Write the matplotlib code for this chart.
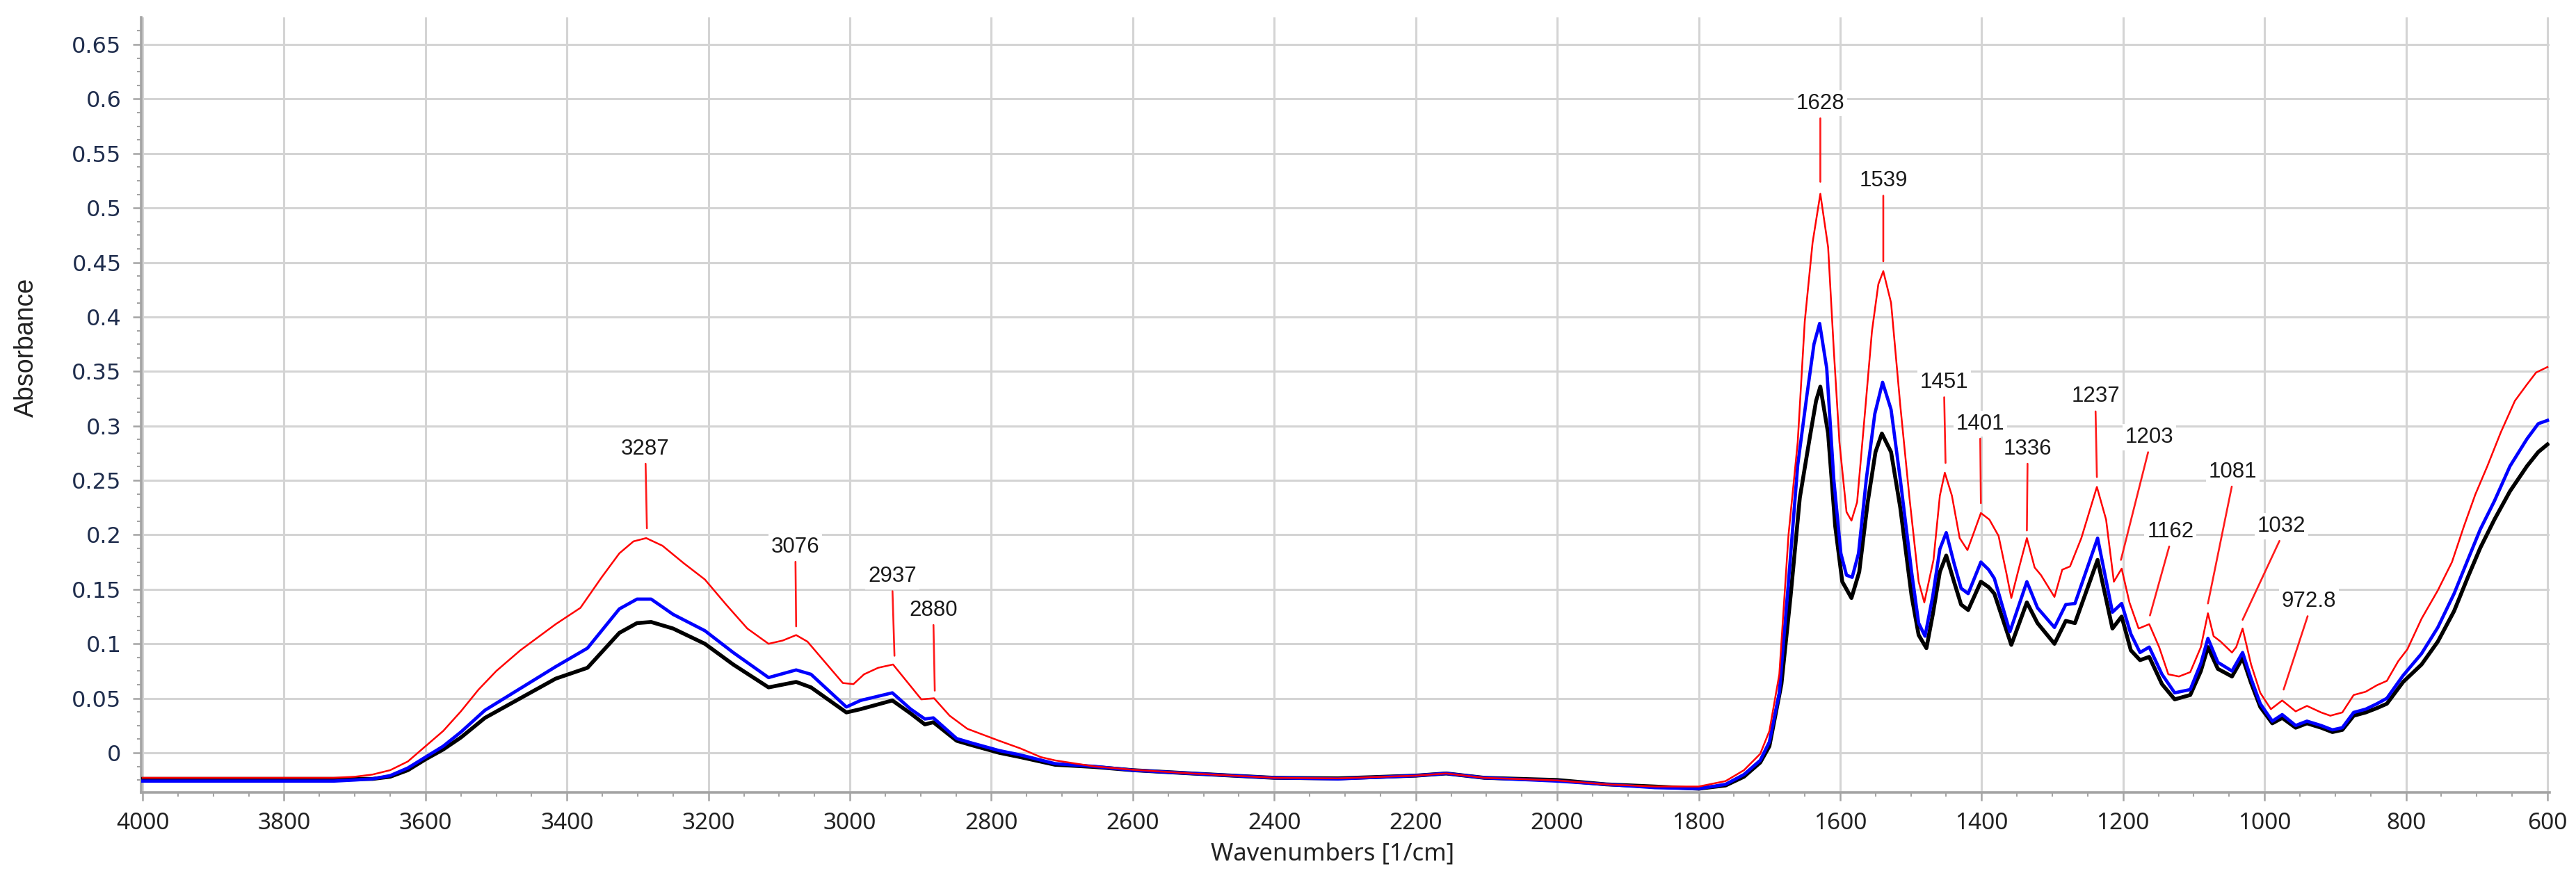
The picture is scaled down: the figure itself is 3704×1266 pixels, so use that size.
import matplotlib
matplotlib.use("Agg")
import matplotlib.pyplot as plt
from matplotlib.ticker import MultipleLocator, AutoMinorLocator, FuncFormatter
from matplotlib import font_manager

# ---- spectra (wavenumber [1/cm], absorbance) ----
wn_red = [4000, 3900, 3800, 3730, 3700, 3675, 3650, 3625, 3600, 3575, 3550, 3525,
          3500, 3466, 3416, 3381, 3351, 3326, 3306, 3288, 3265, 3235, 3205, 3175,
          3145, 3115, 3095, 3076, 3060, 3035, 3010, 2995, 2980, 2960, 2939, 2919,
          2899, 2881, 2859, 2834, 2789, 2759, 2730, 2710, 2655, 2600, 2517, 2400,
          2310, 2200, 2157, 2103, 2000, 1931, 1862, 1800, 1762, 1736, 1713, 1700,
          1686, 1673, 1660, 1650, 1639, 1628, 1617, 1609, 1601, 1591, 1584, 1576,
          1564, 1555, 1546, 1539, 1528, 1515, 1502, 1489, 1481, 1468, 1459, 1452,
          1442, 1431, 1420, 1411, 1401, 1389, 1376, 1365, 1358, 1347, 1336, 1325,
          1316, 1297, 1286, 1275, 1259, 1237, 1224, 1213, 1202, 1191, 1178, 1163,
          1149, 1136, 1121, 1105, 1090, 1080, 1072, 1062, 1046, 1040, 1031, 1019,
          1006, 991, 975, 956, 940, 920, 907, 890, 874, 857, 841, 827, 811, 798,
          778, 755, 735, 718, 702, 685, 666, 646, 629, 616, 600]
abs_red = [-0.023, -0.023, -0.023, -0.023, -0.022, -0.020, -0.016, -0.008, 0.006, 0.020, 0.038, 0.058,
           0.075, 0.094, 0.118, 0.133, 0.161, 0.183, 0.194, 0.197, 0.190, 0.174, 0.159, 0.136,
           0.114, 0.100, 0.103, 0.108, 0.102, 0.083, 0.064, 0.063, 0.072, 0.078, 0.081, 0.065,
           0.049, 0.050, 0.034, 0.022, 0.011, 0.004, -0.004, -0.007, -0.0125, -0.0156, -0.019, -0.023,
           -0.0235, -0.021, -0.019, -0.023, -0.0254, -0.029, -0.031, -0.031, -0.026, -0.016, -0.001, 0.020,
           0.072, 0.200, 0.285, 0.396, 0.468, 0.513, 0.464, 0.370, 0.285, 0.221, 0.213, 0.230,
           0.319, 0.387, 0.430, 0.442, 0.413, 0.319, 0.234, 0.157, 0.138, 0.177, 0.236, 0.257,
           0.236, 0.197, 0.186, 0.202, 0.220, 0.214, 0.199, 0.165, 0.142, 0.170, 0.197, 0.170,
           0.163, 0.143, 0.168, 0.171, 0.197, 0.244, 0.214, 0.157, 0.169, 0.138, 0.114, 0.118,
           0.097, 0.072, 0.070, 0.074, 0.097, 0.128, 0.107, 0.102, 0.092, 0.097, 0.114, 0.081,
           0.055, 0.040, 0.048, 0.038, 0.043, 0.037, 0.034, 0.037, 0.053, 0.056, 0.062, 0.066, 0.084, 0.095,
           0.123, 0.149, 0.175, 0.208, 0.237, 0.263, 0.294, 0.323, 0.338, 0.349, 0.354]

wn_blue = [4000, 3900, 3800, 3730, 3700, 3675, 3650, 3625, 3600, 3575, 3550, 3516,
           3466, 3416, 3371, 3326, 3301, 3281, 3250, 3205, 3165, 3115, 3076, 3055,
           3005, 2985, 2940, 2914, 2894, 2882, 2849, 2828, 2789, 2759, 2710, 2655,
           2600, 2517, 2400, 2310, 2200, 2157, 2103, 2000, 1931, 1862, 1800, 1762,
           1736, 1713, 1700, 1686, 1673, 1660, 1647, 1637, 1629, 1619, 1609, 1599,
           1591, 1583, 1574, 1563, 1551, 1540, 1528, 1515, 1499, 1489, 1480, 1469,
           1459, 1450, 1439, 1429, 1419, 1401, 1390, 1382, 1360, 1336, 1321, 1297,
           1281, 1268, 1236, 1215, 1202, 1189, 1176, 1163, 1145, 1127, 1105, 1090,
           1080, 1066, 1046, 1031, 1019, 1006, 989, 975, 956, 940, 920, 904, 890,
           874, 857, 841, 827, 804, 778, 755, 732, 712, 695, 675, 653, 629, 613, 600]
abs_blue = [-0.026, -0.026, -0.026, -0.026, -0.025, -0.024, -0.021, -0.014, -0.004, 0.006, 0.019, 0.039,
            0.059, 0.079, 0.096, 0.132, 0.141, 0.141, 0.127, 0.112, 0.092, 0.069, 0.076, 0.072,
            0.042, 0.048, 0.055, 0.040, 0.031, 0.032, 0.013, 0.009, 0.002, -0.002, -0.010, -0.0125,
            -0.016, -0.019, -0.023, -0.024, -0.021, -0.019, -0.023, -0.026, -0.029, -0.032, -0.033, -0.029,
            -0.020, -0.007, 0.010, 0.055, 0.157, 0.264, 0.328, 0.375, 0.394, 0.353, 0.251, 0.183,
            0.163, 0.161, 0.183, 0.251, 0.311, 0.340, 0.315, 0.251, 0.166, 0.119, 0.107, 0.144,
            0.187, 0.202, 0.174, 0.151, 0.146, 0.175, 0.168, 0.160, 0.111, 0.157, 0.133, 0.115,
            0.136, 0.137, 0.197, 0.129, 0.137, 0.109, 0.092, 0.097, 0.072, 0.055, 0.058, 0.082,
            0.105, 0.083, 0.075, 0.092, 0.068, 0.045, 0.029, 0.035, 0.025, 0.029, 0.025, 0.021, 0.023,
            0.037, 0.040, 0.045, 0.050, 0.071, 0.091, 0.115, 0.146, 0.178, 0.205, 0.231, 0.263, 0.288, 0.302, 0.305]

wn_black = [4000, 3900, 3800, 3730, 3700, 3675, 3650, 3625, 3600, 3575, 3550, 3516,
            3466, 3416, 3371, 3326, 3301, 3281, 3250, 3205, 3165, 3115, 3076, 3055,
            3005, 2985, 2940, 2914, 2894, 2882, 2849, 2828, 2789, 2759, 2710, 2655,
            2600, 2517, 2400, 2310, 2200, 2157, 2103, 2000, 1931, 1862, 1800, 1762,
            1736, 1713, 1700, 1683, 1670, 1657, 1643, 1634, 1628, 1617, 1607, 1597,
            1584, 1573, 1561, 1550, 1541, 1528, 1515, 1499, 1489, 1478, 1469, 1459,
            1450, 1439, 1429, 1419, 1401, 1390, 1382, 1358, 1336, 1321, 1297, 1281,
            1268, 1236, 1215, 1202, 1189, 1176, 1163, 1145, 1127, 1105, 1090, 1080,
            1066, 1046, 1031, 1019, 1006, 989, 975, 956, 940, 920, 904, 890, 874,
            857, 841, 827, 804, 778, 755, 732, 712, 695, 675, 653, 629, 613, 600]
abs_black = [-0.024, -0.024, -0.024, -0.024, -0.024, -0.024, -0.022, -0.016, -0.006, 0.003, 0.014, 0.032,
             0.050, 0.068, 0.078, 0.110, 0.119, 0.120, 0.114, 0.100, 0.081, 0.060, 0.065, 0.060,
             0.037, 0.040, 0.048, 0.036, 0.026, 0.028, 0.011, 0.007, 0.000, -0.004, -0.011, -0.013,
             -0.016, -0.019, -0.023, -0.0235, -0.021, -0.019, -0.023, -0.025, -0.029, -0.031, -0.033, -0.030,
             -0.022, -0.009, 0.006, 0.063, 0.144, 0.234, 0.289, 0.323, 0.336, 0.293, 0.208, 0.157,
             0.142, 0.166, 0.230, 0.276, 0.293, 0.276, 0.225, 0.144, 0.108, 0.096, 0.127, 0.166,
             0.181, 0.157, 0.136, 0.131, 0.157, 0.152, 0.146, 0.099, 0.138, 0.119, 0.100, 0.121,
             0.119, 0.177, 0.114, 0.125, 0.094, 0.085, 0.088, 0.063, 0.049, 0.053, 0.075, 0.097,
             0.077, 0.070, 0.087, 0.064, 0.042, 0.027, 0.032, 0.023, 0.027, 0.023, 0.019, 0.021, 0.034,
             0.037, 0.041, 0.045, 0.065, 0.081, 0.102, 0.130, 0.162, 0.188, 0.214, 0.240, 0.263, 0.276, 0.283]

# ---- peak labels: text, where the text sits, where the red stem ends ----
peak_text = ["3287", "3076", "2937", "2880", "1628", "1539", "1451", "1401",
             "1336", "1237", "1203", "1162", "1081", "1032", "972.8"]
text_wn = [3289, 3077, 2940, 2882, 1628, 1539, 1453, 1402, 1335, 1239, 1163, 1133, 1045, 976, 937]
text_abs = [0.279, 0.189, 0.162, 0.131, 0.596, 0.525, 0.340, 0.302, 0.279, 0.327, 0.2895, 0.203, 0.258, 0.208, 0.139]
tip_wn = [3287, 3076, 2937, 2880, 1628, 1539, 1451, 1401, 1336, 1237, 1203, 1162, 1080, 1031, 973]
tip_abs = [0.206, 0.116, 0.089, 0.057, 0.524, 0.451, 0.266, 0.229, 0.204, 0.253, 0.177, 0.126, 0.137, 0.122, 0.058]

installed = {f.name for f in font_manager.fontManager.ttflist}
narrow = "Liberation Sans Narrow" if "Liberation Sans Narrow" in installed else "Liberation Sans"

W, H = 3704, 1266
fig = plt.figure(figsize=(W / 100, H / 100), dpi=100)
ax = fig.add_axes([203 / W, 1 - 1140 / H, 3463 / W, 1115 / H])

ax.plot(wn_black, abs_black, color="#000000", lw=4.0, zorder=3, solid_joinstyle="round")
ax.plot(wn_blue, abs_blue, color="#0000ff", lw=3.4, zorder=4, solid_joinstyle="round")
ax.plot(wn_red, abs_red, color="#ff0000", lw=1.8, zorder=5, solid_joinstyle="round")

for lab, tx, ty, px, py in zip(peak_text, text_wn, text_abs, tip_wn, tip_abs):
    ax.annotate(lab, xy=(px, py), xytext=(tx, ty), ha="center", va="center",
                fontsize=22.5, family="Liberation Sans", color="#1a1a1a", zorder=7,
                bbox=dict(boxstyle="square,pad=0.12", fc="white", ec="none"),
                arrowprops=dict(arrowstyle="-", color="#ff1a1a", lw=1.9,
                                shrinkA=2, shrinkB=0, relpos=(0.5, 0.0)))

ax.set_xlim(4002, 597)
ax.set_ylim(-0.0364, 0.6749)
ax.xaxis.set_major_locator(MultipleLocator(200))
ax.xaxis.set_minor_locator(MultipleLocator(50))
ax.yaxis.set_major_locator(MultipleLocator(0.05))
ax.yaxis.set_minor_locator(AutoMinorLocator(4))
ax.yaxis.set_major_formatter(FuncFormatter(lambda v, p: f"{round(v, 2):g}"))
ax.xaxis.set_major_formatter(FuncFormatter(lambda v, p: f"{int(round(v))}"))

ax.grid(True, which="major", color="#d4d4d4", lw=2.2, zorder=0)
ax.set_axisbelow(True)
for s in ["top", "right"]:
    ax.spines[s].set_visible(False)
for s in ["left", "bottom"]:
    ax.spines[s].set_color("#a4a4a4")
    ax.spines[s].set_linewidth(2.6)

ax.tick_params(which="major", length=8.5, width=1.8, color="#a4a4a4")
ax.tick_params(which="minor", length=4, width=1.5, color="#a4a4a4")
ax.tick_params(axis="y", pad=12, labelsize=23, labelcolor="#1f2d4d")
ax.tick_params(axis="x", pad=12, labelsize=24, labelcolor="#222222")
for t in ax.get_yticklabels():
    t.set_family("DejaVu Sans")
for t in ax.get_xticklabels():
    t.set_family("Noto Sans")

fig.text(1916 / W, 1 - 1228 / H, "Wavenumbers [1/cm]", ha="center", va="center",
         fontsize=25, family="Noto Sans", color="#222222")
fig.text(38 / W, 1 - 500 / H, "Absorbance", ha="center", va="center", rotation=90,
         fontsize=27, family=narrow, color="#222222")

fig.savefig("out.png", dpi=100, facecolor="white")
